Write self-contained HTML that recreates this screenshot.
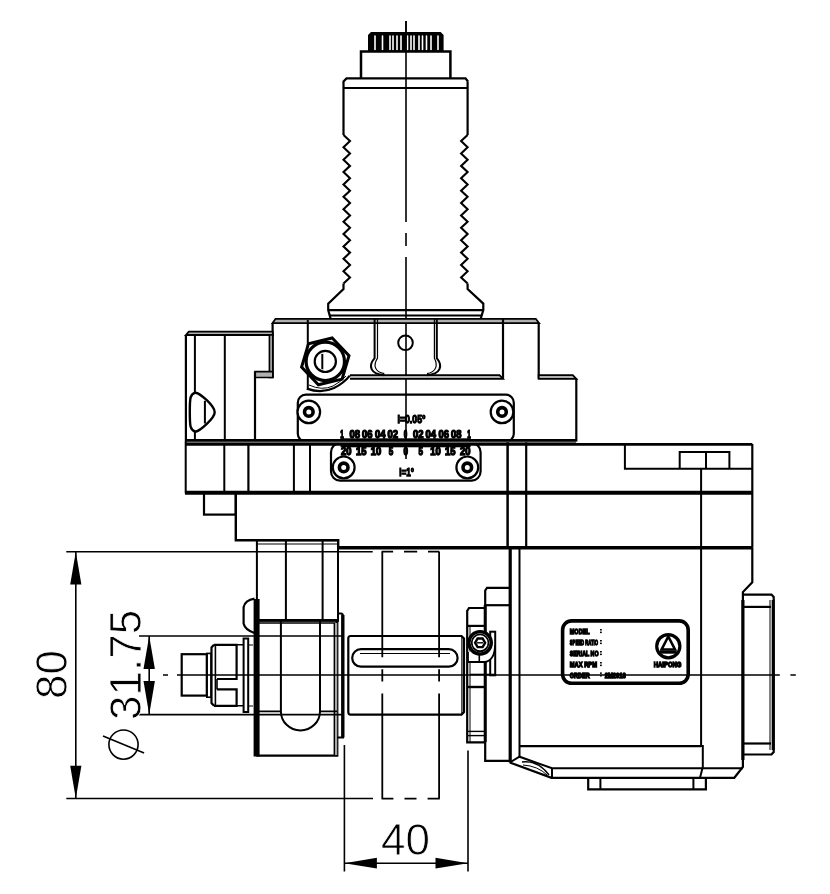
<!DOCTYPE html>
<html><head><meta charset="utf-8"><style>
html,body{margin:0;padding:0;background:#fff;}
svg{display:block;will-change:transform;}
text{font-family:"Liberation Sans", sans-serif; fill:#000;}
</style></head><body>
<svg width="830" height="894" viewBox="0 0 830 894" stroke="#000" fill="none" stroke-linecap="butt" stroke-linejoin="miter">
<rect x="0" y="0" width="830" height="894" fill="#fff" stroke="none"/>
<path d="M406 21 V222 M406 233 V246 M406 257 V459" stroke-width="1.6" fill="none"/>
<path d="M368 51 V35 L371 32.1 H440.6 L443.6 35 V51 Z" stroke-width="0" fill="#000"/>
<rect x="374.2" y="35.2" width="1.6" height="15.3" rx="0.8" fill="#fff" stroke="none"/>
<rect x="381.7" y="35.2" width="1.6" height="15.3" rx="0.8" fill="#fff" stroke="none"/>
<rect x="389.2" y="35.2" width="1.6" height="15.3" rx="0.8" fill="#fff" stroke="none"/>
<rect x="392.2" y="35.2" width="1.6" height="15.3" rx="0.8" fill="#fff" stroke="none"/>
<rect x="396.2" y="35.2" width="1.6" height="15.3" rx="0.8" fill="#fff" stroke="none"/>
<rect x="400.2" y="35.2" width="1.6" height="15.3" rx="0.8" fill="#fff" stroke="none"/>
<rect x="406.7" y="35.2" width="1.6" height="15.3" rx="0.8" fill="#fff" stroke="none"/>
<rect x="410.2" y="35.2" width="1.6" height="15.3" rx="0.8" fill="#fff" stroke="none"/>
<rect x="413.2" y="35.2" width="1.6" height="15.3" rx="0.8" fill="#fff" stroke="none"/>
<rect x="418.2" y="35.2" width="1.6" height="15.3" rx="0.8" fill="#fff" stroke="none"/>
<rect x="421.7" y="35.2" width="1.6" height="15.3" rx="0.8" fill="#fff" stroke="none"/>
<rect x="425.7" y="35.2" width="1.6" height="15.3" rx="0.8" fill="#fff" stroke="none"/>
<rect x="430.2" y="35.2" width="1.6" height="15.3" rx="0.8" fill="#fff" stroke="none"/>
<rect x="437.2" y="35.2" width="1.6" height="15.3" rx="0.8" fill="#fff" stroke="none"/>
<path d="M406 21 V51" stroke-width="1.6" fill="none"/>
<path d="M361 78.4 V51.6 H450.4 V78.4" stroke-width="2.5" fill="none"/>
<path d="M343.5 134.9 V81.5 L346.5 78.4 H465.5 L468 81.5 V81.5 M467.6 81.5 V134.9" stroke-width="2.2" fill="none"/>
<line x1="343.5" y1="88" x2="468" y2="88" stroke-width="2.2"/>
<path d="M343.5 134.9 L350.0 141.10 L343.5 147.29 L350.0 153.49 L343.5 159.68 L350.0 165.88 L343.5 172.08 L350.0 178.27 L343.5 184.47 L350.0 190.66 L343.5 196.86 L350.0 203.05 L343.5 209.25 L350.0 215.45 L343.5 221.64 L350.0 227.84 L343.5 234.03 L350.0 240.23 L343.5 246.43 L350.0 252.62 L343.5 258.82 L350.0 265.01 L343.5 271.21 L350.0 277.40 L343.5 283.60" stroke-width="2.1" fill="none"/>
<path d="M467.6 134.9 L461.1 141.10 L467.6 147.29 L461.1 153.49 L467.6 159.68 L461.1 165.88 L467.6 172.08 L461.1 178.27 L467.6 184.47 L461.1 190.66 L467.6 196.86 L461.1 203.05 L467.6 209.25 L461.1 215.45 L467.6 221.64 L461.1 227.84 L467.6 234.03 L461.1 240.23 L467.6 246.43 L461.1 252.62 L467.6 258.82 L461.1 265.01 L467.6 271.21 L461.1 277.40 L467.6 283.60" stroke-width="2.1" fill="none"/>
<path d="M343.5 283.6 V289 L328.2 303.6 V310.1 L330.8 319.4" stroke-width="2.2" fill="none"/>
<path d="M467.6 283.6 V289 L483.3 303.6 V310.1 L480.5 319.4" stroke-width="2.2" fill="none"/>
<line x1="328.2" y1="310.1" x2="483.3" y2="310.1" stroke-width="2.2"/>
<line x1="330" y1="315.5" x2="481.5" y2="315.5" stroke-width="1.8"/>
<path d="M272.6 323.1 L275.5 318.8 H535.8 L539.1 323.1 Z" stroke-width="1.8" fill="#b0b0b0"/>
<path d="M272.6 323 V377.6" stroke-width="2.2" fill="none"/>
<path d="M538.7 323 V378.8" stroke-width="2.2" fill="none"/>
<line x1="503" y1="319" x2="503" y2="378.8" stroke-width="2.2"/>
<path d="M350 375.2 H499.5 L503 378.8 H350" stroke-width="1.8" fill="#b0b0b0"/>
<path d="M538.7 375.2 H572.8 L576.3 378.8 H538.7 Z" stroke-width="1.8" fill="#b0b0b0"/>
<line x1="576.3" y1="378.8" x2="576.3" y2="441.6" stroke-width="2.2"/>
<path d="M374.6 319 V358.2 C368 366 370 374 384.3 375.2" stroke-width="2" fill="none"/>
<path d="M377.5 319 V358.2 C373 365 374.5 372 384.3 373.6" stroke-width="1.2" fill="none"/>
<path d="M436.8 319 V358.2 C443 366 441 374 427 375.2" stroke-width="2" fill="none"/>
<path d="M434.4 319 V358.2 C438 365 436.5 372 427 373.6" stroke-width="1.2" fill="none"/>
<circle cx="405.5" cy="342.8" r="7.3" stroke-width="2" fill="none"/>
<path d="M185.9 335 L188.8 331.6 H272.8 V335 Z" stroke-width="1.8" fill="#b0b0b0"/>
<path d="M185.9 335 V441" stroke-width="2.2" fill="none"/>
<line x1="194.9" y1="335" x2="194.9" y2="441" stroke-width="2"/>
<line x1="224.8" y1="335" x2="224.8" y2="441" stroke-width="2"/>
<path d="M269.4 335 H272.8 V377.5 H269.4 Z" stroke-width="1.6" fill="#a0a0a0"/>
<path d="M255 371.6 H272.8 V377.5 H255 Z" stroke-width="1.6" fill="#b0b0b0"/>
<path d="M255 371.6 V441" stroke-width="2.2" fill="none"/>
<path d="M195.4 392.7 C190 394 189.8 398 189.8 412 C189.8 426 190 430 195.4 431.7 C200 431 214.7 418 214.7 412.2 C214.7 406 200 393 195.4 392.7 Z" stroke-width="2.4" fill="#fff"/>
<line x1="204.9" y1="400.8" x2="204.9" y2="423.5" stroke-width="2"/>
<line x1="307.8" y1="320" x2="307.8" y2="390" stroke-width="2"/>
<polygon points="332.2,338.0 349.0,355.7 342.1,379.1 318.4,384.8 301.6,367.1 308.5,343.7" stroke-width="3" fill="#fff"/>
<circle cx="325.3" cy="361.4" r="19.2" stroke-width="3.2" fill="#fff"/>
<circle cx="325.3" cy="361.4" r="10.6" stroke-width="2.2" fill="none"/>
<line x1="322.3" y1="353.9" x2="322.3" y2="369.3" stroke-width="2"/>
<path d="M306.9 388.6 Q321 394 334 388 Q344 383 349.8 375.6" stroke-width="2.2" fill="none"/>
<path d="M309 385 Q322 391 333 386 Q342 381 346 376" stroke-width="1" fill="none"/>
<rect x="297.8" y="394.7" width="216" height="47" rx="8" stroke-width="2.2" fill="none"/>
<rect x="331" y="443.2" width="149.6" height="37.4" rx="9" stroke-width="2.2" fill="none"/>
<circle cx="308.8" cy="411.9" r="11.3" stroke-width="2.2" fill="#fff"/>
<circle cx="308.8" cy="411.9" r="4.3" stroke-width="3.6" fill="none"/>
<circle cx="502" cy="411.9" r="11.3" stroke-width="2.2" fill="#fff"/>
<circle cx="502" cy="411.9" r="4.3" stroke-width="3.6" fill="none"/>
<circle cx="343.7" cy="467.4" r="10.9" stroke-width="2.2" fill="#fff"/>
<circle cx="343.7" cy="467.4" r="4.3" stroke-width="3.6" fill="none"/>
<circle cx="467.3" cy="467.4" r="10.9" stroke-width="2.2" fill="#fff"/>
<circle cx="467.3" cy="467.4" r="4.3" stroke-width="3.6" fill="none"/>
<text x="397.5" y="423.1" font-size="11.5" font-weight="bold" textLength="28" lengthAdjust="spacingAndGlyphs" stroke="#000" stroke-width="1.25">I=0.05°</text>
<text x="399.3" y="476.4" font-size="11.5" font-weight="bold" textLength="14.7" lengthAdjust="spacingAndGlyphs" stroke="#000" stroke-width="1.25">I=1°</text>
<text x="340.2" y="438" font-size="10" font-weight="bold" textLength="3.5" lengthAdjust="spacingAndGlyphs" stroke="#000" stroke-width="1.25">1</text>
<text x="349.4" y="438" font-size="10" font-weight="bold" textLength="10.5" lengthAdjust="spacingAndGlyphs" stroke="#000" stroke-width="1.25">08</text>
<text x="362.1" y="438" font-size="10" font-weight="bold" textLength="10.5" lengthAdjust="spacingAndGlyphs" stroke="#000" stroke-width="1.25">06</text>
<text x="374.9" y="438" font-size="10" font-weight="bold" textLength="10.5" lengthAdjust="spacingAndGlyphs" stroke="#000" stroke-width="1.25">04</text>
<text x="387.6" y="438" font-size="10" font-weight="bold" textLength="10.5" lengthAdjust="spacingAndGlyphs" stroke="#000" stroke-width="1.25">02</text>
<text x="403.8" y="438" font-size="10" font-weight="bold" textLength="3.5" lengthAdjust="spacingAndGlyphs" stroke="#000" stroke-width="1.25">0</text>
<text x="412.9" y="438" font-size="10" font-weight="bold" textLength="10.5" lengthAdjust="spacingAndGlyphs" stroke="#000" stroke-width="1.25">02</text>
<text x="425.6" y="438" font-size="10" font-weight="bold" textLength="10.5" lengthAdjust="spacingAndGlyphs" stroke="#000" stroke-width="1.25">04</text>
<text x="438.4" y="438" font-size="10" font-weight="bold" textLength="10.5" lengthAdjust="spacingAndGlyphs" stroke="#000" stroke-width="1.25">06</text>
<text x="451.1" y="438" font-size="10" font-weight="bold" textLength="10.5" lengthAdjust="spacingAndGlyphs" stroke="#000" stroke-width="1.25">08</text>
<text x="467.2" y="438" font-size="10" font-weight="bold" textLength="3.5" lengthAdjust="spacingAndGlyphs" stroke="#000" stroke-width="1.25">1</text>
<rect x="340.6" y="438.3" width="130" height="9" rx="0" stroke-width="0" fill="#000"/>
<text x="341.1" y="454.5" font-size="10" font-weight="bold" textLength="10.5" lengthAdjust="spacingAndGlyphs" stroke="#000" stroke-width="1.25">20</text>
<text x="356.0" y="454.5" font-size="10" font-weight="bold" textLength="10.5" lengthAdjust="spacingAndGlyphs" stroke="#000" stroke-width="1.25">15</text>
<text x="370.8" y="454.5" font-size="10" font-weight="bold" textLength="10.5" lengthAdjust="spacingAndGlyphs" stroke="#000" stroke-width="1.25">10</text>
<text x="388.7" y="454.5" font-size="10" font-weight="bold" textLength="4.5" lengthAdjust="spacingAndGlyphs" stroke="#000" stroke-width="1.25">5</text>
<text x="403.5" y="454.5" font-size="10" font-weight="bold" textLength="4.5" lengthAdjust="spacingAndGlyphs" stroke="#000" stroke-width="1.25">0</text>
<text x="418.4" y="454.5" font-size="10" font-weight="bold" textLength="4.5" lengthAdjust="spacingAndGlyphs" stroke="#000" stroke-width="1.25">5</text>
<text x="430.2" y="454.5" font-size="10" font-weight="bold" textLength="10.5" lengthAdjust="spacingAndGlyphs" stroke="#000" stroke-width="1.25">10</text>
<text x="445.1" y="454.5" font-size="10" font-weight="bold" textLength="10.5" lengthAdjust="spacingAndGlyphs" stroke="#000" stroke-width="1.25">15</text>
<text x="459.9" y="454.5" font-size="10" font-weight="bold" textLength="10.5" lengthAdjust="spacingAndGlyphs" stroke="#000" stroke-width="1.25">20</text>
<rect x="185" y="440" width="391" height="4.5" fill="#666" stroke="none"/>
<line x1="185" y1="440.2" x2="576" y2="440.2" stroke-width="2.4"/>
<line x1="185" y1="444.3" x2="752.3" y2="444.3" stroke-width="2.8"/>
<path d="M185.7 441 V492.4 H752" stroke-width="2" fill="none"/>
<line x1="185" y1="492.8" x2="752.3" y2="492.8" stroke-width="4"/>
<line x1="224.3" y1="443" x2="224.3" y2="492" stroke-width="2"/>
<line x1="248.4" y1="443" x2="248.4" y2="492" stroke-width="2.2"/>
<line x1="293.9" y1="443" x2="293.9" y2="492" stroke-width="2"/>
<line x1="310" y1="443" x2="310" y2="492" stroke-width="2"/>
<line x1="507.6" y1="442.3" x2="507.6" y2="548.4" stroke-width="2.5"/>
<line x1="526.2" y1="442.3" x2="526.2" y2="548.4" stroke-width="2.2"/>
<path d="M752.3 444 V547.6" stroke-width="2.2" fill="none"/>
<path d="M624.9 444 V468.7 H752.3" stroke-width="2" fill="none"/>
<path d="M679.7 468.7 V452 H729.4 V468.7" stroke-width="2" fill="none"/>
<line x1="706" y1="452" x2="706" y2="468.7" stroke-width="2"/>
<rect x="204" y="492.4" width="31.8" height="22.2" rx="0" stroke-width="2.2" fill="none"/>
<path d="M235.8 492.4 V540.2 H338.2 V547" stroke-width="2.4" fill="none"/>
<line x1="338" y1="547.7" x2="752.4" y2="547.7" stroke-width="3.4"/>
<rect x="256.9" y="540.2" width="81.1" height="80.6" rx="0" stroke-width="2" fill="none"/>
<line x1="285.9" y1="541" x2="285.9" y2="620" stroke-width="2"/>
<line x1="322.6" y1="541" x2="322.6" y2="620" stroke-width="2"/>
<line x1="256.9" y1="544" x2="338" y2="544" stroke-width="1.2"/>
<path d="M254.5 598.6 Q245 600 243.6 607.2 V623.6 Q245 630 254.5 633" stroke-width="2.2" fill="#fff"/>
<path d="M256.3 620.3 H337.2 V755.6 H256.3" stroke-width="2.4" fill="none"/>
<line x1="256.3" y1="623" x2="337.2" y2="623" stroke-width="1.6"/>
<rect x="334.3" y="623" width="2.9" height="132" fill="#a8a8a8" stroke="none"/>
<line x1="334.3" y1="623" x2="334.3" y2="755" stroke-width="1.4"/>
<path d="M256.6 599 V756.5" stroke-width="6" fill="none"/>
<path d="M280.9 620.8 V711.4 A19.55 19 0 0 0 320 711.4 V620.8" stroke-width="2" fill="none"/>
<path d="M256 711.4 H280.9 M320 711.4 H337" stroke-width="1.6" fill="none"/>
<path d="M337.2 613.5 H341 Q343 613.5 343 616 V737.5 H337.2" stroke-width="2" fill="none"/>
<line x1="342.8" y1="615" x2="342.8" y2="737.5" stroke-width="3.4"/>
<rect x="243.6" y="638.5" width="4.6" height="73.5" rx="0" stroke-width="2" fill="none"/>
<path d="M248.2 645 H253 M248.2 706 H253" stroke-width="1.2" fill="none"/>
<path d="M236.6 644.8 H243.6 M236.6 705.8 H243.6" stroke-width="1.6" fill="none"/>
<path d="M214 644.8 H236.6 V679 H217 M217 689.4 H236.6 V705.8 H214" stroke-width="2.2" fill="none"/>
<path d="M214 644.8 L211.5 647.5 V703 L214 705.8" stroke-width="2.2" fill="none"/>
<line x1="215.4" y1="645" x2="215.4" y2="705.5" stroke-width="1.6"/>
<line x1="217" y1="679" x2="217" y2="689.4" stroke-width="1.6"/>
<rect x="206.8" y="653.4" width="4.2" height="43.8" rx="0" stroke-width="1.6" fill="none"/>
<rect x="181.7" y="654.2" width="25.1" height="41.4" rx="0" stroke-width="2.2" fill="none"/>
<path d="M350.5 636 H461.5 L464 638.5 V712 L461.5 714.6 H350.5 Q348.3 714.6 348.3 712 V638.5 Q348.3 636 350.5 636 Z" stroke-width="2.2" fill="none"/>
<line x1="461.9" y1="637" x2="461.9" y2="713.5" stroke-width="1.2"/>
<path d="M361 649.1 H448.8 A8.8 8.8 0 0 1 448.8 666.7 H361 A8.8 8.8 0 0 1 361 649.1 Z" stroke-width="2.2" fill="none"/>
<line x1="360" y1="653.5" x2="450" y2="653.5" stroke-width="1.2"/>
<path d="M510.2 548 V762.5" stroke-width="3.2" fill="none"/>
<line x1="519.5" y1="548" x2="519.5" y2="756.7" stroke-width="2"/>
<line x1="519.5" y1="746.2" x2="701.1" y2="746.2" stroke-width="2.2"/>
<path d="M509.8 762.5 L551.5 777.8 H734.3 L742.9 766.9 V592.1 L752.3 582.3 V547.6" stroke-width="2.2" fill="none"/>
<path d="M742.9 600 V760" stroke-width="3.2" fill="none"/>
<path d="M509.8 762.5 L519.5 756.7 L552 768.3 H742.9" stroke-width="2" fill="none"/>
<line x1="552" y1="768.3" x2="552" y2="777.8" stroke-width="2"/>
<path d="M588.2 777.8 V789.3 H705.9 V777.8" stroke-width="2.2" fill="none"/>
<line x1="600.4" y1="777.8" x2="600.4" y2="789.3" stroke-width="2"/>
<line x1="693.4" y1="777.8" x2="693.4" y2="789.3" stroke-width="2"/>
<path d="M522 762 Q538 760 549 775" stroke-width="1.5" fill="none"/>
<path d="M523 765 Q538 766 547 775" stroke-width="1" fill="none"/>
<path d="M701.1 468.7 V745.9 H702.8 V766.9 L700 777.8" stroke-width="2" fill="none"/>
<path d="M742.9 594.6 H771.5 L773.7 597 V752 L771.5 754.5 H742.9" stroke-width="2.2" fill="none"/>
<line x1="773.2" y1="600" x2="773.2" y2="750" stroke-width="3"/>
<line x1="770" y1="600" x2="770" y2="750" stroke-width="1"/>
<line x1="742.9" y1="606.9" x2="771" y2="606.9" stroke-width="2.2"/>
<line x1="742.9" y1="743.5" x2="771" y2="743.5" stroke-width="2.2"/>
<path d="M485.2 590.5 L487 587.8 H510.2 M485.2 590 V760.8 H510.2" stroke-width="2.2" fill="none"/>
<line x1="485.2" y1="605.2" x2="510.2" y2="605.2" stroke-width="2.2"/>
<path d="M485.2 605 V742" stroke-width="3" fill="none"/>
<path d="M467.2 611 L469 608 H485.2 M467.2 610 V742.3 H485.2" stroke-width="2.2" fill="none"/>
<line x1="467.2" y1="625.9" x2="485.2" y2="625.9" stroke-width="2.2"/>
<line x1="467.2" y1="687" x2="485.2" y2="687" stroke-width="2.4"/>
<line x1="467.2" y1="731.4" x2="485.2" y2="731.4" stroke-width="1.4"/>
<line x1="467.2" y1="735.6" x2="485.2" y2="735.6" stroke-width="1.4"/>
<line x1="470" y1="626" x2="470" y2="742" stroke-width="1"/>
<rect x="490.2" y="631.7" width="5" height="43.6" rx="0" stroke-width="2" fill="none"/>
<path d="M470 674.5 H495" stroke-width="1.6" fill="none"/>
<path d="M468 652 V662 H485 Q495 660 495 645" stroke-width="1.8" fill="#fff"/>
<line x1="479.3" y1="655" x2="479.3" y2="662" stroke-width="1.6"/>
<circle cx="480.1" cy="642.8" r="11.2" stroke-width="3.4" fill="#fff"/>
<circle cx="480.1" cy="642.8" r="8.4" stroke-width="1.8" fill="none"/>
<polygon points="485.1,642.8 482.6,647.1 477.6,647.1 475.1,642.8 477.6,638.5 482.6,638.5" stroke-width="2.4" fill="none"/>
<line x1="477" y1="642.8" x2="483" y2="642.8" stroke-width="1.4"/>
<rect x="562.6" y="620.9" width="125.6" height="62.4" rx="9" stroke-width="3.6" fill="none"/>
<circle cx="668.3" cy="646.2" r="11.6" stroke-width="3.2" fill="none"/>
<path d="M668.3 636.5 L675 649.5 H661.6 Z" stroke-width="2.6" fill="#fff"/>
<rect x="660" y="650.5" width="16.6" height="3.2" rx="0" stroke-width="0" fill="#000"/>
<text x="653.7" y="667.3" font-size="7.5" font-weight="bold" textLength="27.8" lengthAdjust="spacingAndGlyphs" stroke="#000" stroke-width="1.35">HAIPONG</text>
<text x="569.8" y="634.2" font-size="7.5" font-weight="bold" textLength="19.8" lengthAdjust="spacingAndGlyphs" stroke="#000" stroke-width="1.35">MODEL</text>
<rect x="600" y="629" width="1.8" height="1.5" fill="#000" stroke="none"/><rect x="600" y="631.6" width="1.8" height="1.5" fill="#000" stroke="none"/>
<text x="569.8" y="645.2" font-size="7.5" font-weight="bold" textLength="28.2" lengthAdjust="spacingAndGlyphs" stroke="#000" stroke-width="1.35">SPEED RATIO</text>
<rect x="600" y="640" width="1.8" height="1.5" fill="#000" stroke="none"/><rect x="600" y="642.6" width="1.8" height="1.5" fill="#000" stroke="none"/>
<text x="569.8" y="656.2" font-size="7.5" font-weight="bold" textLength="28.7" lengthAdjust="spacingAndGlyphs" stroke="#000" stroke-width="1.35">SERIAL NO</text>
<rect x="600" y="651" width="1.8" height="1.5" fill="#000" stroke="none"/><rect x="600" y="653.6" width="1.8" height="1.5" fill="#000" stroke="none"/>
<text x="569.8" y="667.2" font-size="7.5" font-weight="bold" textLength="27.2" lengthAdjust="spacingAndGlyphs" stroke="#000" stroke-width="1.35">MAX RPM</text>
<rect x="600" y="662" width="1.8" height="1.5" fill="#000" stroke="none"/><rect x="600" y="664.6" width="1.8" height="1.5" fill="#000" stroke="none"/>
<text x="569.8" y="677.6" font-size="7.5" font-weight="bold" textLength="19.8" lengthAdjust="spacingAndGlyphs" stroke="#000" stroke-width="1.35">ORDER</text>
<rect x="600" y="672.4" width="1.8" height="1.5" fill="#000" stroke="none"/><rect x="600" y="675.0" width="1.8" height="1.5" fill="#000" stroke="none"/>
<text x="604.8" y="677.6" font-size="7.5" font-weight="bold" textLength="21" lengthAdjust="spacingAndGlyphs" stroke="#000" stroke-width="1.35">2M2018</text>
<path d="M163 675 H168 M177 675 H779.8 M790.4 675 H795.8" stroke-width="1.6" fill="none"/>
<line x1="66.3" y1="551.7" x2="372.7" y2="551.7" stroke-width="1.6"/>
<line x1="66.3" y1="798.5" x2="373" y2="798.5" stroke-width="1.6"/>
<line x1="139" y1="636" x2="344" y2="636" stroke-width="1.6"/>
<line x1="139" y1="714.6" x2="344" y2="714.6" stroke-width="1.6"/>
<line x1="75.8" y1="552" x2="75.8" y2="798" stroke-width="1.6"/>
<path d="M75.8 551.7 L70.2 584.5 H81.4 Z" stroke-width="0" fill="#000"/>
<path d="M75.8 798.5 L70.2 765.7 H81.4 Z" stroke-width="0" fill="#000"/>
<line x1="149.2" y1="636" x2="149.2" y2="714" stroke-width="1.6"/>
<path d="M149.2 636 L143.5 669 H154.9 Z" stroke-width="0" fill="#000"/>
<path d="M149.2 714.6 L143.5 681 H154.9 Z" stroke-width="0" fill="#000"/>
<line x1="344.4" y1="745" x2="344.4" y2="871.5" stroke-width="1.6"/>
<line x1="468" y1="750.5" x2="468" y2="871.5" stroke-width="1.6"/>
<line x1="344.4" y1="863.2" x2="468" y2="863.2" stroke-width="1.6"/>
<path d="M344.4 863.2 L376.9 857.8 V868.6 Z" stroke-width="0" fill="#000"/>
<path d="M468 863.2 L435.5 857.8 V868.6 Z" stroke-width="0" fill="#000"/>
<path d="M382.3 551.7 V657.2 M382.3 669.3 V681.4 M382.3 693.5 V798.6 M439.1 551.7 V657.2 M439.1 669.3 V681.4 M439.1 693.5 V798.6" stroke-width="1.8" fill="none"/>
<path d="M381.6 551.7 H393.1 M404 551.7 H417.2 M428 551.7 H439.4" stroke-width="1.8" fill="none"/>
<path d="M381.6 798.6 H393.4 M404.5 798.6 H416.5 M427.6 798.6 H439.8" stroke-width="1.8" fill="none"/>
<text x="381" y="854.8" font-size="44" stroke="#fff" stroke-width="0.8">40</text>
<text transform="translate(67.2,698.9) rotate(-90)" font-size="44" stroke="#fff" stroke-width="0.8">80</text>
<text transform="translate(141.2,720) rotate(-90)" font-size="44" stroke="#fff" stroke-width="0.8">31.75</text>
<circle cx="123.5" cy="744.6" r="14.6" stroke-width="1.6" fill="none"/>
<line x1="103" y1="736" x2="144.1" y2="753.1" stroke-width="1.6"/>
</svg>
</body></html>
